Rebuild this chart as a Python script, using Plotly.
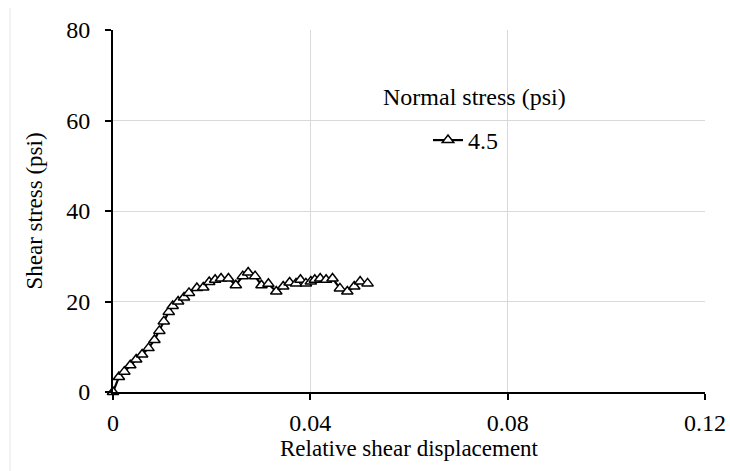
import plotly.graph_objects as go

displacement = [0.0, 0.0012, 0.0023, 0.0035, 0.0047, 0.0059, 0.0072, 0.0084, 0.0094, 0.0103,
                0.0113, 0.0121, 0.0132, 0.0144, 0.0154, 0.0170, 0.0183, 0.0195, 0.0207, 0.0219,
                0.0234, 0.0249, 0.0263, 0.0274, 0.0288, 0.0301, 0.0315, 0.0331, 0.0345, 0.0358,
                0.0371, 0.0380, 0.0391, 0.0401, 0.0409, 0.0420, 0.0432, 0.0445, 0.0460, 0.0475,
                0.0489, 0.0501, 0.0516]
shear_stress = [0.0, 3.3, 4.5, 5.9, 7.2, 8.3, 9.7, 11.5, 13.5, 15.6,
                17.7, 19.0, 20.0, 20.9, 21.9, 23.0, 23.1, 24.3, 24.8, 25.1,
                25.1, 23.6, 25.6, 26.4, 25.6, 23.6, 23.9, 22.2, 23.3, 24.2,
                24.0, 24.8, 24.0, 24.4, 24.8, 25.1, 24.8, 25.1, 22.9, 22.2,
                23.3, 24.4, 24.0]
series_name = "4.5"
legend_title = "Normal stress (psi)"
x_ticks = [0, 0.04, 0.08, 0.12]
x_tick_labels = ["0", "0.04", "0.08", "0.12"]
y_ticks = [0, 20, 40, 60, 80]

FONT = "Liberation Serif"
tick_font = dict(family=FONT, size=24, color="black")

fig = go.Figure()
fig.add_trace(go.Scatter(
    x=displacement, y=shear_stress, name=series_name,
    mode="lines+markers",
    line=dict(color="black", width=2.2),
    marker=dict(symbol="triangle-up", size=10, color="white",
                line=dict(color="black", width=1.5)),
    cliponaxis=False,
))

fig.update_layout(
    width=730, height=471,
    margin=dict(l=113, r=25, t=30, b=79),
    paper_bgcolor="white", plot_bgcolor="white",
    font=dict(family=FONT, size=24, color="black"),
    showlegend=True,
    legend=dict(
        x=(428 - 113) / 592, y=(392 - 118) / 362, xanchor="left", yanchor="top",
        bgcolor="rgba(0,0,0,0)",
        font=dict(family=FONT, size=24, color="black"),
    ),
    xaxis=dict(
        range=[0, 0.12], tickvals=x_ticks, ticktext=x_tick_labels,
        automargin=False,
        showgrid=True, gridcolor="#d9d9d9", gridwidth=1,
        showline=True, linecolor="black", linewidth=2,
        ticks="outside", ticklen=6, tickwidth=2, tickcolor="black",
        ticklabelstandoff=2, tickfont=tick_font,
        zeroline=False,
        title=dict(text="Relative shear displacement", standoff=0,
                   font=dict(family=FONT, size=23, color="black")),
    ),
    yaxis=dict(
        range=[0, 80], tickvals=y_ticks,
        automargin=False,
        showgrid=True, gridcolor="#d9d9d9", gridwidth=1,
        showline=True, linecolor="black", linewidth=2,
        ticks="outside", ticklen=6, tickwidth=2, tickcolor="black",
        ticklabelstandoff=10, tickfont=tick_font,
        zeroline=False,
        title=dict(text="Shear stress (psi)", standoff=17,
                   font=dict(family=FONT, size=23, color="black")),
    ),
    annotations=[dict(text=legend_title, xref="paper", yref="paper",
                      x=(474 - 113) / 592, y=(392 - 97) / 362,
                      xanchor="center", yanchor="middle", showarrow=False,
                      font=dict(family=FONT, size=24, color="black"))],
    shapes=[dict(type="line", xref="paper", yref="paper",
                 x0=(10 - 113) / 592, x1=(10 - 113) / 592,
                 y0=(392 - 8) / 362, y1=(392 - 471) / 362,
                 line=dict(color="#e6e6e6", width=1))],
)

fig.write_html("out.html")
